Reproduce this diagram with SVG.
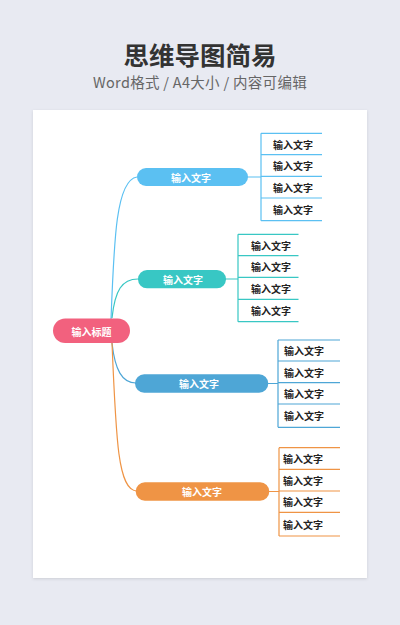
<svg xmlns="http://www.w3.org/2000/svg" width="400" height="625" viewBox="0 0 400 625">
<defs>
<style>
.t{font-family:"Noto Sans CJK SC","Noto Sans",sans-serif;}
.pt{font-family:"Noto Sans CJK SC",sans-serif;font-size:10px;font-weight:bold;fill:#fff;text-anchor:middle;dominant-baseline:central;}
.lt{font-family:"Noto Sans CJK SC",sans-serif;font-size:10px;font-weight:bold;fill:#222;text-anchor:middle;dominant-baseline:central;}
.ln{fill:none;stroke-width:1.2;}
</style>
<filter id="sh" x="-5%" y="-5%" width="110%" height="110%"><feDropShadow dx="0" dy="1" stdDeviation="1.5" flood-color="#000" flood-opacity="0.12"/></filter>
</defs>
<rect width="400" height="625" fill="#E8EAF2"/>
<text x="200" y="53.5" class="t" font-size="25.5" font-weight="bold" fill="#333" text-anchor="middle" dominant-baseline="central">思维导图简易</text>
<text x="200" y="81.5" class="t" font-size="14.5" fill="#666" text-anchor="middle" dominant-baseline="central" letter-spacing="0.3">Word格式 / A4大小 / 内容可编辑</text>
<rect x="33" y="110" width="334" height="468" fill="#fff" filter="url(#sh)"/>
<g id="connectors">
<path class="ln" stroke="#5BC0F2" d="M111,320 C114,240 116,180 137,177"/>
<path class="ln" stroke="#38C7C4" d="M112,318 C115,290 122,279 138,279"/>
<path class="ln" stroke="#4EA6D6" d="M112,343 C115,370 122,383 136,383"/>
<path class="ln" stroke="#EF9445" d="M112,343 C116,440 118,491 137,491"/>
<path class="ln" stroke="#5BC0F2" d="M247,177 H261 M261,133.3 V220.7 M261,133.3 H322 M261,154.7 H322 M261,176.3 H322 M261,198 H322 M261,220.7 H322"/>
<path class="ln" stroke="#38C7C4" d="M225,279 H238 M238,234.3 V321.7 M238,234.3 H298.5 M238,255.7 H298.5 M238,277.3 H298.5 M238,299.3 H298.5 M238,321.7 H298.5"/>
<path class="ln" stroke="#4EA6D6" d="M268,383.5 H278 M278,340 V427.3 M278,340 H340 M278,361 H340 M278,382.7 H340 M278,404 H340 M278,427.3 H340"/>
<path class="ln" stroke="#EF9445" d="M269,491.5 H279 M279,447.7 V536 M279,447.7 H340 M279,469.3 H340 M279,491 H340 M279,512.3 H340 M279,536 H340"/>
</g>
<g id="root"><rect x="53" y="318.5" width="77" height="24.5" rx="12.25" fill="#F2617E"/><text x="91.5" y="331" class="pt">输入标题</text></g>
<g id="b1"><rect x="137" y="168" width="111" height="18" rx="9" fill="#5BC0F2"/><text x="191" y="177" class="pt">输入文字</text></g>
<g id="b2"><rect x="138" y="270" width="88" height="18.3" rx="9" fill="#38C7C4"/><text x="183" y="279" class="pt">输入文字</text></g>
<g id="b3"><rect x="135" y="374.3" width="133.3" height="18.4" rx="9.2" fill="#4EA6D6"/><text x="199" y="383.5" class="pt">输入文字</text></g>
<g id="b4"><rect x="135.7" y="482.3" width="133.6" height="18.4" rx="9.2" fill="#EF9445"/><text x="202" y="491.5" class="pt">输入文字</text></g>
<g id="l1">
<text x="293" y="144" class="lt">输入文字</text><text x="293" y="165.5" class="lt">输入文字</text><text x="293" y="187" class="lt">输入文字</text><text x="293" y="209.3" class="lt">输入文字</text>
</g>
<g id="l2">
<text x="271" y="245" class="lt">输入文字</text><text x="271" y="266.5" class="lt">输入文字</text><text x="271" y="288.3" class="lt">输入文字</text><text x="271" y="310.5" class="lt">输入文字</text>
</g>
<g id="l3">
<text x="304" y="350.5" class="lt">输入文字</text><text x="304" y="372" class="lt">输入文字</text><text x="304" y="393.3" class="lt">输入文字</text><text x="304" y="415.6" class="lt">输入文字</text>
</g>
<g id="l4">
<text x="303" y="458.5" class="lt">输入文字</text><text x="303" y="480.2" class="lt">输入文字</text><text x="303" y="501.6" class="lt">输入文字</text><text x="303" y="524.2" class="lt">输入文字</text>
</g>
</svg>
